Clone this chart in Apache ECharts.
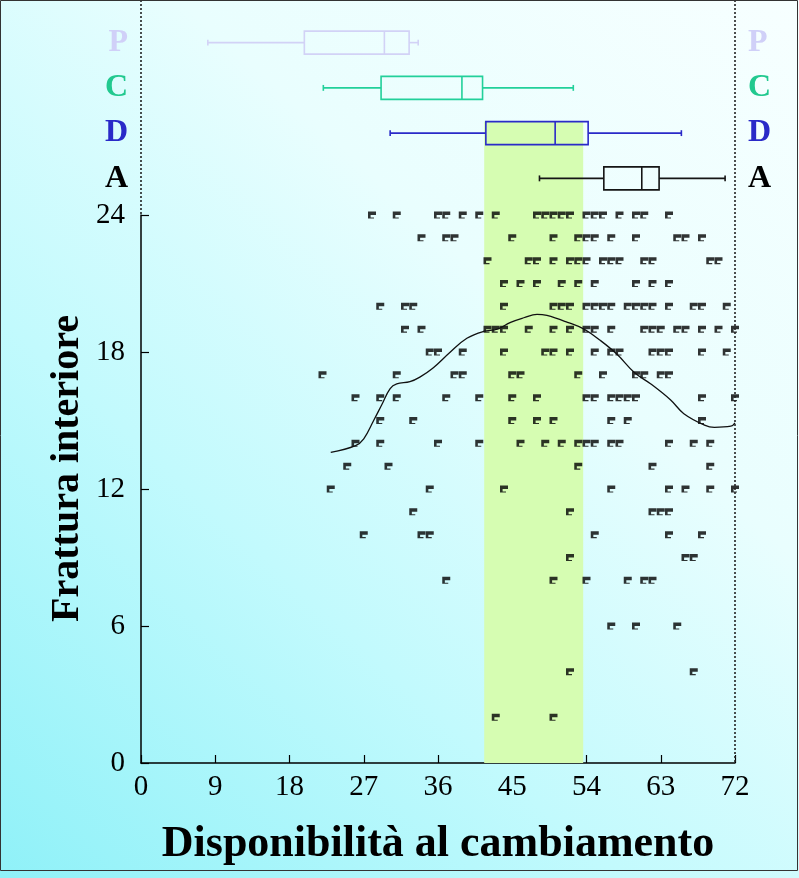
<!DOCTYPE html>
<html>
<head>
<meta charset="utf-8">
<script src="https://cdn.jsdelivr.net/npm/echarts@6/dist/echarts.min.js"></script>
<style>html,body{margin:0;padding:0;}#c{width:799px;height:878px;}</style>
</head>
<body>
<div id="c"></div>
<script>
// ---- data ----
const xTickLabels = [0, 9, 18, 27, 36, 45, 54, 63, 72];
const yTickLabels = [0, 6, 12, 18, 24];
const boxCategories = ['A', 'D', 'C', 'P'];           // bottom -> top
const boxValues = [                                  // [min, Q1, median, Q3, max]
  [48.3, 56.1, 60.7, 62.8, 70.8],   // A
  [30.2, 41.8, 50.2, 54.2, 65.5],   // D
  [22.1, 29.1, 38.9, 41.4, 52.4],   // C
  [8.1, 19.8, 29.5, 32.5, 33.6]     // P
];
const boxColors = ['#151515', '#2a2ac8', '#22d09a', '#d2d2f6'];
const bandRange = [41.6, 53.6];

const row24 = [28,31,36,37,39,41,43,48,49,50,51,52,54,55,56,58,60,61,64];
const row23 = [34,37,38,45,50,53,54,55,57,60,65,66,68];
const row22 = [42,47,48,50,52,53,54,56,57,58,61,62,69,70];
const row21 = [44,46,48,51,53,55,60,62,64];
const row20 = [29,32,33,44,50,51,52,54,55,56,57,59,60,61,62,64,67,68,71];
const row19 = [32,34,42,43,44,47,50,52,54,55,57,61,62,63,65,66,68,70,72];
const row18 = [35,36,39,44,49,50,52,55,57,58,62,63,64,68,71];
const row17 = [22,31,38,39,45,46,53,56,60,61,63,64];
const row16 = [26,29,31,37,41,45,48,54,55,57,58,59,60,68,72];
const row15 = [29,33,45,48,50,57,59,68];
const row14 = [26,29,36,41,46,49,51,53,54,55,57,58,64,67,69];
const row13 = [25,30,53,62,69];
const row12 = [23,35,44,57,64,66,69,72];
const row11 = [33,52,62,63,64];
const row10 = [27,34,35,55,64,68];
const row9  = [52,66,67];
const row8  = [37,50,54,59,61,62];
const row6  = [57,60,65];
const row4  = [52,67];
const row2  = [43,50];

const curveX = [23, 26, 27, 28.2, 29.2, 30.2, 31, 32.6, 33.8, 35.4, 37.5, 39.5, 41.5, 43.2, 44.8, 46.4, 48, 49.2, 51.7, 53.7, 55.7, 57.7, 59.8, 61.8, 64.2, 65.8, 68.3, 69.5, 71.5, 72];
const curveY = [13.6, 13.9, 14.2, 15.0, 15.7, 16.4, 16.6, 16.7, 16.9, 17.3, 18.0, 18.6, 18.9, 19.0, 19.3, 19.5, 19.65, 19.6, 19.3, 19.0, 18.5, 17.9, 17.1, 16.6, 15.9, 15.3, 14.8, 14.7, 14.75, 14.9];

// ---- build ----
const rows = {24:row24,23:row23,22:row22,21:row21,20:row20,19:row19,18:row18,17:row17,16:row16,15:row15,14:row14,13:row13,12:row12,11:row11,10:row10,9:row9,8:row8,6:row6,4:row4,2:row2};
const points = [];
Object.keys(rows).forEach(k => rows[k].forEach(x => points.push([x, Number(k)])));
const curve = curveX.map((x, i) => [x, curveY[i]]);
const labelColors = {A: '#000000', D: '#2a2ac8', C: '#22c98f', P: '#d0d0f8'};

const SERIF = '"Liberation Serif", "DejaVu Serif", serif';
const G = {left: 141, width: 594, outerBoundsMode: 'none', containLabel: false};
const flag = 'path://M0,0 H8 V4 H2.6 V6.8 H6 V8 H0 Z';

const chart = echarts.init(document.getElementById('c'), null, {renderer: 'canvas'});
const option = {
  animation: false,
  backgroundColor: new echarts.graphic.LinearGradient(0, 1, 1, 0, [
    {offset: 0, color: '#8ff1f8'},
    {offset: 0.35, color: '#c2fafd'},
    {offset: 0.65, color: '#e9fefe'},
    {offset: 1, color: '#f7ffff'}
  ]),
  grid: [
    Object.assign({top: 215, height: 548}, G),      // scatter
    Object.assign({top: 20, height: 181}, G),       // boxes
    Object.assign({top: 121.5, height: 641.5}, G)   // band
  ],
  xAxis: [
    {gridIndex: 0, type: 'value', min: 0, max: 72, interval: 9,
     axisLine: {lineStyle: {color: '#000', width: 1.5}},
     axisTick: {inside: true, length: 8, lineStyle: {color: '#000', width: 1.2}},
     splitLine: {show: false},
     axisLabel: {color: '#000', fontFamily: SERIF, fontSize: 29, margin: 10,
                 formatter: v => xTickLabels.includes(v) ? String(v) : ''},
     name: 'Disponibilità al cambiamento', nameLocation: 'middle', nameGap: 60,
     nameTextStyle: {color: '#000', fontFamily: SERIF, fontSize: 44, fontWeight: 'bold'}},
    {gridIndex: 1, type: 'value', min: 0, max: 72, show: false},
    {gridIndex: 2, type: 'value', min: 0, max: 72, show: false}
  ],
  yAxis: [
    {gridIndex: 0, type: 'value', min: 0, max: 24, interval: 6,
     axisLine: {show: true, lineStyle: {color: '#000', width: 1.5}},
     axisTick: {show: true, inside: true, length: 8, lineStyle: {color: '#000', width: 1.2}},
     splitLine: {show: false},
     axisLabel: {color: '#000', fontFamily: SERIF, fontSize: 29, margin: 16,
                 formatter: v => yTickLabels.includes(v) ? String(v) : ''}},
    {gridIndex: 1, type: 'category', data: boxCategories, position: 'left',
     axisLine: {show: false}, axisTick: {show: false},
     axisLabel: {fontFamily: SERIF, fontSize: 32, fontWeight: 'bold', margin: 13,
                 color: v => labelColors[v]}},
    {gridIndex: 1, type: 'category', data: boxCategories, position: 'right',
     axisLine: {show: false}, axisTick: {show: false},
     axisLabel: {fontFamily: SERIF, fontSize: 32, fontWeight: 'bold', margin: 13,
                 color: v => labelColors[v]}},
    {gridIndex: 2, type: 'value', min: 0, max: 1, show: false}
  ],
  series: [
    {type: 'line', xAxisIndex: 2, yAxisIndex: 3, data: [], z: 0,
     markArea: {silent: true, itemStyle: {color: '#d6fdb2', opacity: 1},
                data: [[{xAxis: bandRange[0]}, {xAxis: bandRange[1]}]]}},
    {type: 'custom', xAxisIndex: 1, yAxisIndex: 1, z: 3,
     data: boxValues.map((b, i) => [i].concat(b)),
     encode: {x: [1, 2, 3, 4, 5], y: 0},
     renderItem: function (params, api) {
       const c = api.value(0);
       const pMin = api.coord([api.value(1), c]);
       const pQ1 = api.coord([api.value(2), c]);
       const pMed = api.coord([api.value(3), c]);
       const pQ3 = api.coord([api.value(4), c]);
       const pMax = api.coord([api.value(5), c]);
       const band = api.size([0, 1])[1];
       const bh = band * 0.51, ch = band * 0.13;
       const y = pMed[1];
       const st = {stroke: boxColors[params.dataIndex], lineWidth: 1.6, fill: null};
       return {type: 'group', children: [
         {type: 'line', shape: {x1: pMin[0], y1: y, x2: pQ1[0], y2: y}, style: st},
         {type: 'line', shape: {x1: pQ3[0], y1: y, x2: pMax[0], y2: y}, style: st},
         {type: 'line', shape: {x1: pMin[0], y1: y - ch / 2, x2: pMin[0], y2: y + ch / 2}, style: st},
         {type: 'line', shape: {x1: pMax[0], y1: y - ch / 2, x2: pMax[0], y2: y + ch / 2}, style: st},
         {type: 'rect', shape: {x: pQ1[0], y: y - bh / 2, width: pQ3[0] - pQ1[0], height: bh}, style: st},
         {type: 'line', shape: {x1: pMed[0], y1: y - bh / 2, x2: pMed[0], y2: y + bh / 2}, style: st}
       ]};
     }},
    {type: 'scatter', xAxisIndex: 0, yAxisIndex: 0, z: 4, data: points,
     symbol: flag, symbolSize: [8, 7], itemStyle: {color: '#000'}},
    {type: 'line', xAxisIndex: 0, yAxisIndex: 0, z: 5, data: curve, smooth: 0.4,
     showSymbol: false, lineStyle: {color: '#111', width: 1.3}}
  ]
};
chart.setOption(option);

// frame lines derived from the scatter grid's scales
const pTopLeft = chart.convertToPixel({gridIndex: 0}, [0, 24]);
const pBotRight = chart.convertToPixel({gridIndex: 0}, [72, 0]);
const titleCenter = chart.convertToPixel({gridIndex: 0}, [0, 12.9]);
chart.setOption({graphic: [
  {type: 'line', shape: {x1: pTopLeft[0], y1: 0, x2: pTopLeft[0], y2: pTopLeft[1]},
   style: {stroke: '#222', lineWidth: 1.6, lineDash: [2, 2]}, z: 10},
  {type: 'line', shape: {x1: pBotRight[0], y1: 0, x2: pBotRight[0], y2: pBotRight[1]},
   style: {stroke: '#222', lineWidth: 1.6, lineDash: [2, 2]}, z: 10},
  {type: 'text', x: 68, y: titleCenter[1], rotation: Math.PI / 2,
   style: {text: 'Frattura interiore', fontFamily: SERIF, fontSize: 40, fontWeight: 'bold',
           fill: '#000', align: 'center', verticalAlign: 'middle'}, z: 10},
  {type: 'rect', shape: {x: 0.5, y: 0.5, width: 797, height: 870},
   style: {fill: null, stroke: '#333', lineWidth: 1}, z: 11}
]});
</script>
</body>
</html>
